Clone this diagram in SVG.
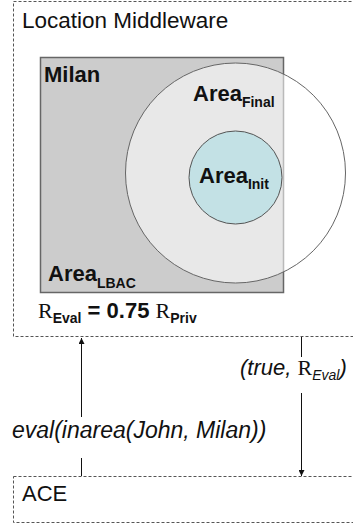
<svg xmlns="http://www.w3.org/2000/svg" width="353" height="529" viewBox="0 0 353 529">
  <style>
    .frame { fill: none; stroke: #555; stroke-width: 1; stroke-dasharray: 3 2; }
    .sans { font-family: "Liberation Sans", Arial, sans-serif; fill: #111; }
    .serif { font-family: "Liberation Serif", "Times New Roman", serif; fill: #111; }
    .b { font-weight: bold; }
    .i { font-style: italic; }
    .wire { stroke: #111; stroke-width: 1; fill: none; }
  </style>
  <defs>
    <marker id="head" viewBox="0 0 6 6" refX="6" refY="3" markerWidth="6" markerHeight="6" markerUnits="userSpaceOnUse" orient="auto">
      <path d="M0,0 L6,3 L0,6 Z" fill="#111"/>
    </marker>
  </defs>
  <rect width="353" height="529" fill="#fff"/>

  <!-- Location Middleware container -->
  <g id="middleware">
    <rect class="frame" x="13.5" y="1.5" width="360" height="335"/>
    <text class="sans" x="22" y="28" font-size="22.5">Location Middleware</text>
  </g>

  <!-- Milan region -->
  <g id="milan">
    <rect x="40.5" y="57.5" width="243" height="235" fill="#cccccc" stroke="#666" stroke-width="1.5"/>
    <text class="sans b" x="44" y="82" font-size="22">Milan</text>
    <text class="sans b" x="48" y="281" font-size="22">Area<tspan font-size="14" dy="7">LBAC</tspan></text>
  </g>

  <!-- Final area -->
  <g id="area-final">
    <circle cx="235.5" cy="173" r="110" fill="#fff" fill-opacity="0.55" stroke="#666" stroke-width="1"/>
    <text class="sans b" x="193" y="101" font-size="22">Area<tspan font-size="14" dy="6">Final</tspan></text>
  </g>

  <!-- Initial area -->
  <g id="area-init">
    <circle cx="235.5" cy="177.5" r="46.5" fill="#c3e1e5" stroke="#555" stroke-width="1"/>
    <text class="sans b" x="199" y="183" font-size="22">Area<tspan font-size="14" dy="6">Init</tspan></text>
  </g>

  <!-- Radius relation -->
  <g id="radius">
    <text x="38" y="318" font-size="22"><tspan class="serif">R</tspan><tspan class="sans b" font-size="14" dy="5">Eval</tspan><tspan class="sans b" dy="-5"> = 0.75 </tspan><tspan class="serif">R</tspan><tspan class="sans b" font-size="14" dy="5">Priv</tspan></text>
  </g>

  <!-- ACE container -->
  <g id="ace">
    <rect class="frame" x="13.5" y="476.5" width="360" height="46"/>
    <text class="sans" x="22" y="501" font-size="22">ACE</text>
  </g>

  <!-- Request / response -->
  <g id="connectors">
    <line class="wire" x1="81.5" y1="476" x2="81.5" y2="458"/>
    <line class="wire" x1="81.5" y1="417" x2="81.5" y2="338" marker-end="url(#head)"/>
    <line class="wire" x1="301.5" y1="337" x2="301.5" y2="357"/>
    <line class="wire" x1="301.5" y1="393" x2="301.5" y2="476" marker-end="url(#head)"/>
    <text class="sans i" x="12" y="438" font-size="23">eval(inarea(John, Milan))</text>
    <text x="240" y="375" font-size="22"><tspan class="sans i">(true, </tspan><tspan class="serif">R</tspan><tspan class="sans i" font-size="14" dy="5">Eval</tspan><tspan class="sans i" dy="-5">)</tspan></text>
  </g>
</svg>
